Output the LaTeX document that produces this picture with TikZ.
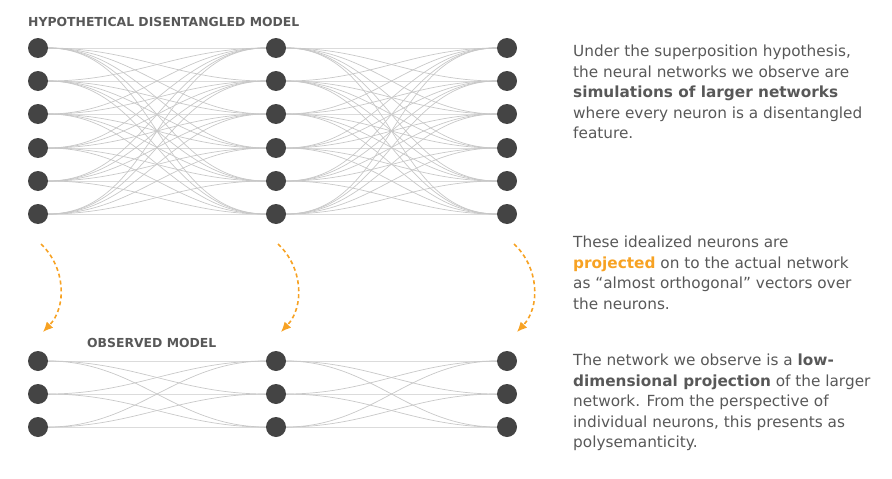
\documentclass[tikz,border=0pt]{standalone}
\usepackage{fontspec}
\setmainfont{DejaVu Sans}
\usetikzlibrary{arrows.meta,positioning}
\definecolor{neuron}{RGB}{68,68,68}
\definecolor{wire}{RGB}{200,200,200}
\definecolor{caption}{RGB}{88,88,88}
\definecolor{proj}{RGB}{247,162,35}

\begin{document}
\begin{tikzpicture}[x=1pt, y=-1pt,
      every node/.style={font=\fontsize{15.3}{20.5}\selectfont, text=caption},
      neuron/.style={circle, fill=neuron, minimum size=20pt, inner sep=0pt},
      wire/.style={draw=wire, line width=0.7pt, out=0, in=180},
      heading/.style={font=\fontsize{12.4}{14}\selectfont\bfseries, anchor=base west, inner sep=0pt},
      blurb/.style={anchor=north west, align=left, inner sep=0pt},
      projarrow/.style={draw=proj, line width=1.6pt, dash pattern=on 4pt off 3pt, -{Latex[length=10pt,width=9pt]}, bend left=45},
    ]

    \useasboundingbox (0,0) rectangle (892,479);

    % disentangled model, three layers of six
    \foreach \l/\x in {1/38, 2/276, 3/507}
      \foreach \r/\y in {1/48, 2/81, 3/114, 4/148, 5/181, 6/214}
        \node[neuron] (h\l-\r) at (\x,\y) {};

    % observed model, three layers of three
    \foreach \l/\x in {1/38, 2/276, 3/507}
      \foreach \r/\y in {1/361, 2/394, 3/427}
        \node[neuron] (o\l-\r) at (\x,\y) {};

    \foreach \a/\b in {1/2, 2/3} {
      \foreach \i in {1,...,6}
        \foreach \j in {1,...,6}
          \draw[wire] (h\a-\i) to (h\b-\j);
      \foreach \i in {1,...,3}
        \foreach \j in {1,...,3}
          \draw[wire] (o\a-\i) to (o\b-\j);
    }

    \node[heading] (htitle) at (28,27) {HYPOTHETICAL DISENTANGLED MODEL};
    \node[heading] (otitle) at (87,347) {OBSERVED MODEL};

    % projection arrows
    \coordinate (p1) at (41,244);  \coordinate (q1) at (43,332);
    \coordinate (p2) at (278,244); \coordinate (q2) at (281,332);
    \coordinate (p3) at (514,244); \coordinate (q3) at (517,332);
    \draw[projarrow] (p1) to (q1);
    \draw[projarrow] (p2) to (q2);
    \draw[projarrow] (p3) to (q3);

    \node[blurb] (super) at (573,45) {Under the superposition hypothesis,\\ the neural networks we observe are\\ \textbf{simulations of larger networks}\\ where every neuron is a disentangled\\ feature.};
    \node[blurb] (ideal) at (573,236) {These idealized neurons are\\ \textcolor{proj}{\textbf{projected}} on to the actual network\\ as “almost orthogonal” vectors over\\ the neurons.};
    \node[blurb] (lowdim) at (573,354) {The network we observe is a \textbf{low-}\\ \textbf{dimensional projection} of the larger\\ network. From the perspective of\\ individual neurons, this presents as\\ polysemanticity.};

  \end{tikzpicture}
\end{document}
